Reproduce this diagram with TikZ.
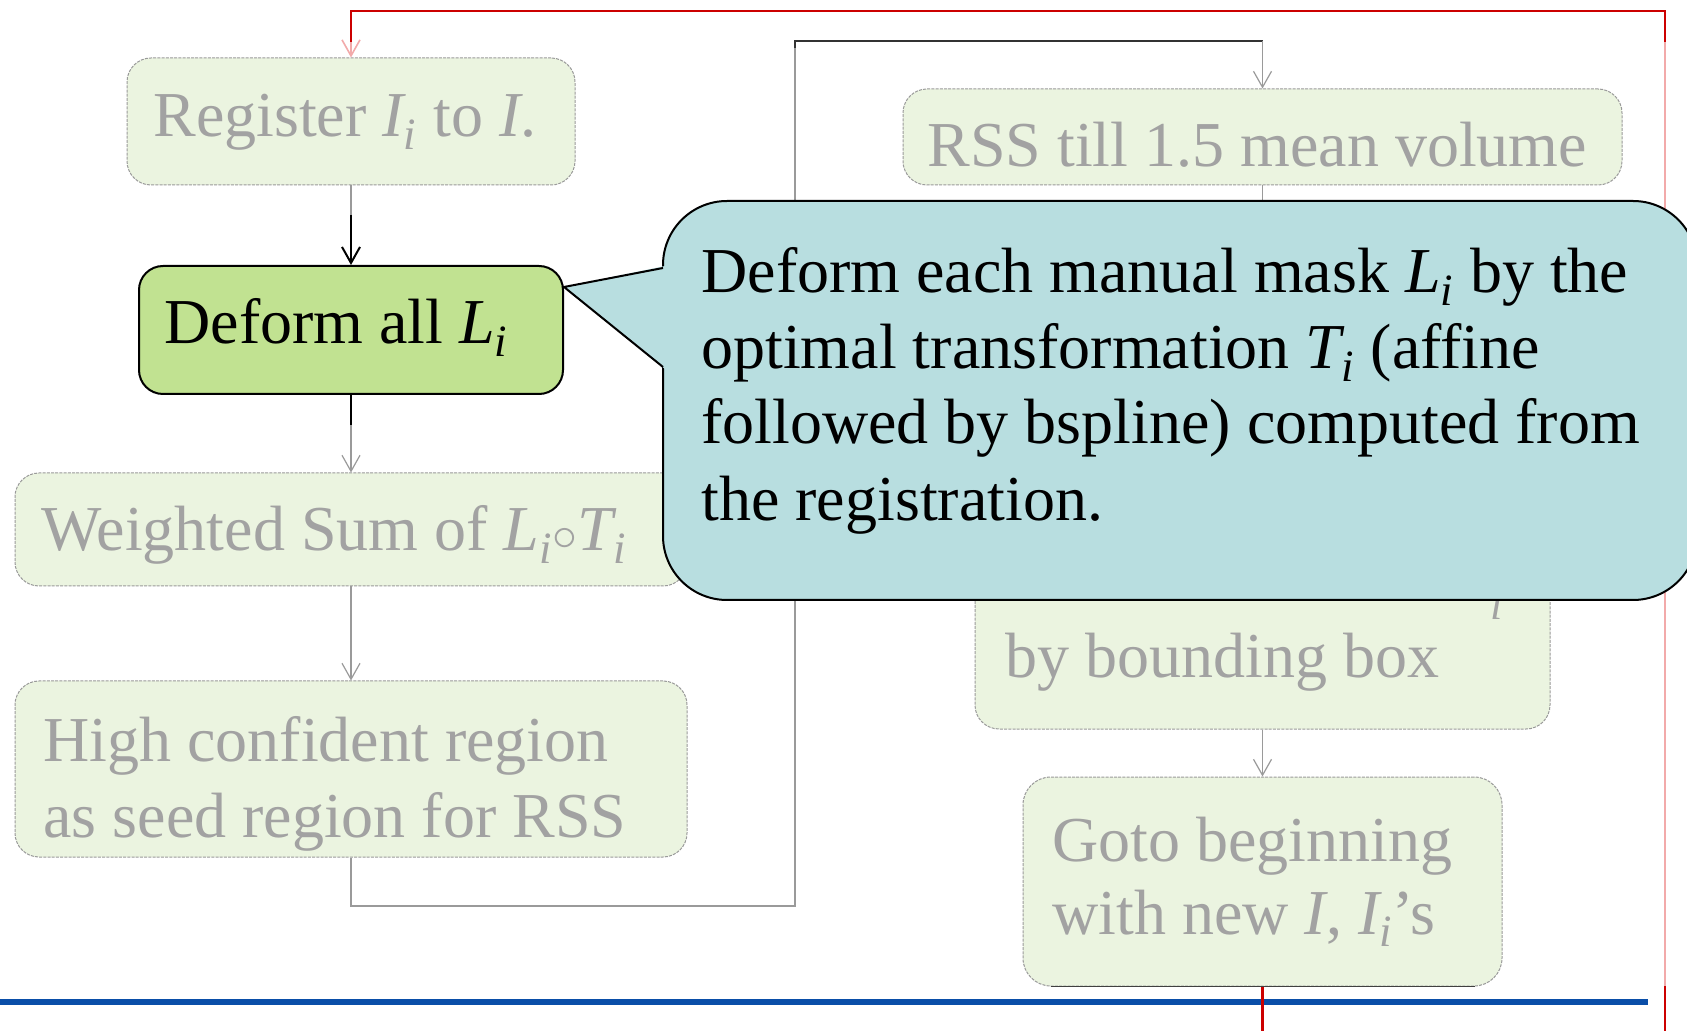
\documentclass[tikz,border=0pt]{standalone}
\usepackage{amsmath}
\usepackage{fontspec}
\setmainfont{Liberation Serif}
\usetikzlibrary{arrows.meta,fit}
\definecolor{deffill}{HTML}{C1E291}
\definecolor{callfill}{HTML}{B8DEE0}
\definecolor{fadefill}{HTML}{EBF4E0}
\definecolor{fadeline}{HTML}{9A9A9A}
\definecolor{fadetext}{HTML}{A2A2A2}
\definecolor{redline}{HTML}{CC0000}
\definecolor{pinkline}{HTML}{F2AAAA}
\definecolor{blueline}{HTML}{0A4EA8}
\newcommand\mi[1]{\textit{#1}}
\newcommand\bigtext{\fontsize{32}{38}\selectfont}

\tikzset{
  fbox/.style={draw=fadeline, fill=fadefill, rounded corners=12pt,
    dash pattern=on 1.5pt off 0.6pt, line width=0.5pt, inner sep=0pt},
  defbox/.style={draw=black, fill=deffill, rounded corners=12pt,
    line width=1pt, inner sep=0pt},
  ftext/.style={text=fadetext, anchor=base west, inner sep=0pt, font=\bigtext},
  btext/.style={text=black, anchor=base west, inner sep=0pt, font=\bigtext},
  fline/.style={draw=fadeline, line width=0.6pt},
  dline/.style={draw=black, line width=1pt},
  barb/.style={-{Straight Barb[length=8pt,width=9pt]}},
}

\begin{document}
\begin{tikzpicture}[x=0.5pt,y=-0.5pt]
\clip (0,0) rectangle (1687,1031);
\fill[white] (0,0) rectangle (1687,1031);

% faded flow-chart boxes
\node[fbox, fit={(127,58)(575,185)}] (reg) {};
\node[fbox, fit={(15,473)(687,586)}] (wsum) {};
\node[fbox, fit={(15,681)(687,857)}] (seed) {};
\node[fbox, fit={(903,89)(1622,185)}] (rss) {};
\node[fbox, fit={(975,230)(1550,729)}] (bbox) {};
\node[fbox, rounded corners=14pt, fit={(1023,777)(1502,986)}] (goto) {};
\draw[black!75, line width=0.8pt] ([xshift=14pt]goto.south west) -- ([xshift=-14pt]goto.south east);

% faded texts
\node[ftext] (treg) at (153,137) {Register $\mi{I}_{\mi{i}}$ to $\mi{I}$.};
\node[ftext] (twsum) at (41,551) {Weighted Sum of $\mi{L}_{\mi{i}}{\circ}\mi{T}_{\mi{i}}$};
\node[ftext] (tseed1) at (43,762) {High confident region};
\node[ftext] (tseed2) at (43,837) {as seed region for RSS};
\node[ftext] (trss) at (927,167) {RSS till 1.5 mean volume};
\node[ftext] (tsub) at (1490,620) {\fontsize{22}{26}\selectfont\itshape i};
\node[ftext] (tbbox) at (1005,678) {by bounding box};
\node[ftext] (tgoto1) at (1052,861) {Goto beginning};
\node[ftext] (tgoto2) at (1052,934) {with new $\mi{I}$, $\mi{I}_{\mi{i}}$’s};

% highlighted step
\node[defbox, fit={(139,266)(563,394)}] (def) {};
\node[btext] (tdef) at (164,344) {Deform all $\mi{L}_{\mi{i}}$};

% connectors of the left column
\coordinate (k1) at (351,215);
\coordinate (k2) at (351,425);
\draw[fline] (reg.south) -- (k1);
\draw[dline, barb] (k1) -- (def.north);
\draw[dline] (def.south) -- (k2);
\draw[fline, barb] (k2) -- (wsum.north);
\draw[fline, barb] (wsum.south) -- (seed.north);

% loop over to the right column
\coordinate (lp1) at (795,906);
\coordinate (lp2) at (795,41);
\coordinate (lp3) at (1262.5,41);
\coordinate (lp4) at (795,48);
\draw[fline] (seed.south) |- (lp1) -- (lp4);
\draw[black!80, line width=0.8pt] (lp4) -- (lp2) -- (lp3);
\draw[fline, barb] (lp3) -- (rss.north);
\draw[fline] (rss.south) -- (bbox.north);
\draw[fline, barb] (bbox.south) -- (goto.north);

% red return path
\coordinate (r1) at (351,11);
\coordinate (r2) at (351,42);
\coordinate (r3) at (1665,11);
\coordinate (r4) at (1665,42);
\coordinate (r5) at (1665,986);
\coordinate (r6) at (1665,1031);
\coordinate (r7) at (1262.5,1031);
\draw[pinkline, line width=0.8pt] (r4) -- (r5);
\draw[pinkline, line width=0.8pt, barb] (r2) -- (reg.north);

% blue rule
\coordinate (b1) at (0,1002);
\coordinate (b2) at (1648,1002);
\draw[blueline, line width=2.6pt] (b1) -- (b2);

\draw[redline, line width=1.3pt] (r2) -- (r1) -- (r3) -- (r4);
\draw[redline, line width=1.3pt] (r5) -- (r6);
\draw[redline, line width=1.3pt] (goto.south) -- (r7);

% callout
\coordinate (ctip) at (564,287);
\coordinate (cup) at (663,268);
\coordinate (cdn) at (663,367);
\node[draw=black, fill=callfill, line width=1pt, rounded corners=32pt,
  inner sep=0pt, fit={(663,201)(1697,600)}] (call) {};
\fill[callfill] (ctip) -- (665,266) -- (665,369) -- cycle;
\draw[black, line width=1pt] (cup) -- (ctip) -- (cdn);
\node[btext] (c1) at (701,293) {Deform each manual mask $\mi{L}_{\mi{i}}$ by the};
\node[btext] (c2) at (701,369) {optimal transformation $\mi{T}_{\mi{i}}$ (affine};
\node[btext] (c3) at (701,444) {followed by bspline) computed from};
\node[btext] (c4) at (701,521) {the registration.};
\end{tikzpicture}
\end{document}
